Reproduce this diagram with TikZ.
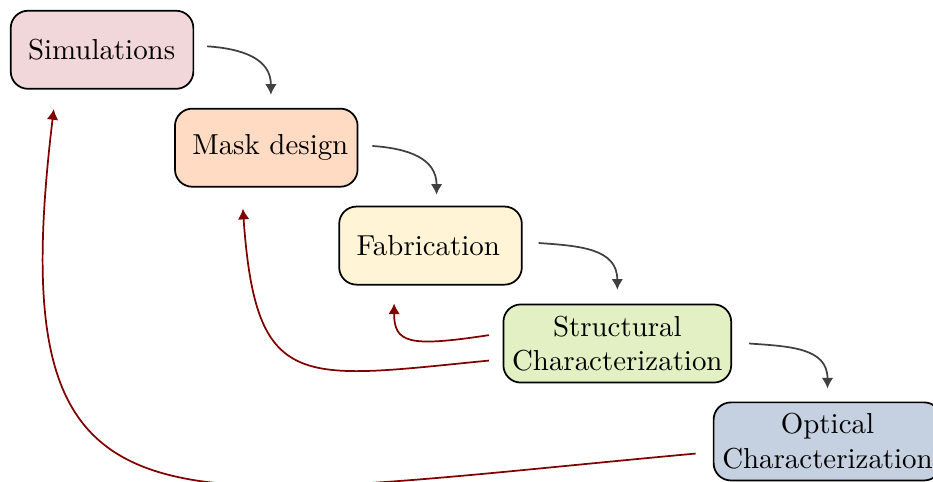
\documentclass[tikz,border=0pt]{standalone}
\usetikzlibrary{arrows.meta, positioning}

\definecolor{simfill}{HTML}{F2D7DA}
\definecolor{maskfill}{HTML}{FEDBC2}
\definecolor{fabfill}{HTML}{FFF5D6}
\definecolor{structfill}{HTML}{E3F0C4}
\definecolor{optfill}{HTML}{C5D0E0}

\begin{document}
\begin{tikzpicture}[
		block/.style={rectangle, draw=black, semithick, minimum height=0.95cm, rounded corners=6pt},
		short/.style={block, text width=1.8cm, inner sep=6pt},
		long/.style={block, align=center, inner xsep=3pt},
		arrow/.style={-{Latex[length=3.7pt,width=4pt]}, semithick, black!75},
		feedback/.style={-{Latex[length=3.7pt,width=4pt]}, semithick, red!50!black}
		]
		
		\useasboundingbox (0,0) rectangle (11.35,-5.86);
		
		% Process steps, stepping down to the right
		\node[short, fill=simfill, anchor=north west] (sim) at (0.12,-0.12) {Simulations};
		\node[short, fill=maskfill, below right=2.2mm and -2.45mm of sim] (mask) {\mbox{Mask design}};
		\node[short, fill=fabfill, below right=2.2mm and -2.45mm of mask] (fab) {Fabrication};
		\node[long, fill=structfill, below right=2.2mm and -2.45mm of fab] (struct) {Structural\\Characterization};
		\node[long, fill=optfill, below right=2.2mm and -2.35mm of struct] (optical) {Optical\\Characterization};
		
		% Forward arrows
		\draw[arrow] ([xshift=4.5pt,yshift=1.2pt]sim.east) to[out=-4,in=90,looseness=1.15] ([xshift=1.6pt,yshift=4.5pt]mask.north);
		\draw[arrow] ([xshift=4.8pt,yshift=0.6pt]mask.east) to[out=-4,in=90,looseness=1.15] ([xshift=2.1pt,yshift=3.8pt]fab.north);
		\draw[arrow] ([xshift=5.5pt,yshift=0.9pt]fab.east) to[out=-4,in=90,looseness=1.15] ([yshift=4.8pt]struct.north);
		\draw[arrow] ([xshift=5.9pt]struct.east) to[out=-4,in=90,looseness=1.15] ([yshift=4.5pt]optical.north);
		
		% Feedback loops
		\draw[feedback] ([xshift=-4.7pt,yshift=2.9pt]struct.west) .. controls +(-27.7pt,-4.2pt) and +(0,-13.8pt) .. ([xshift=-12.6pt,yshift=-6.2pt]fab.south);
		\draw[feedback] ([xshift=-4.7pt,yshift=-5.9pt]struct.west) .. controls +(-65.4pt,-6.4pt) and +(4.5pt,-64pt) .. ([xshift=-8.1pt,yshift=-7.3pt]mask.south);
		\draw[feedback] ([xshift=-5.9pt,yshift=-4.2pt]optical.west) .. controls +(-189.6pt,-17.3pt) and +(-18.7pt,-154.7pt) .. ([xshift=-16.7pt,yshift=-6.7pt]sim.south);
		
	\end{tikzpicture}
\end{document}
